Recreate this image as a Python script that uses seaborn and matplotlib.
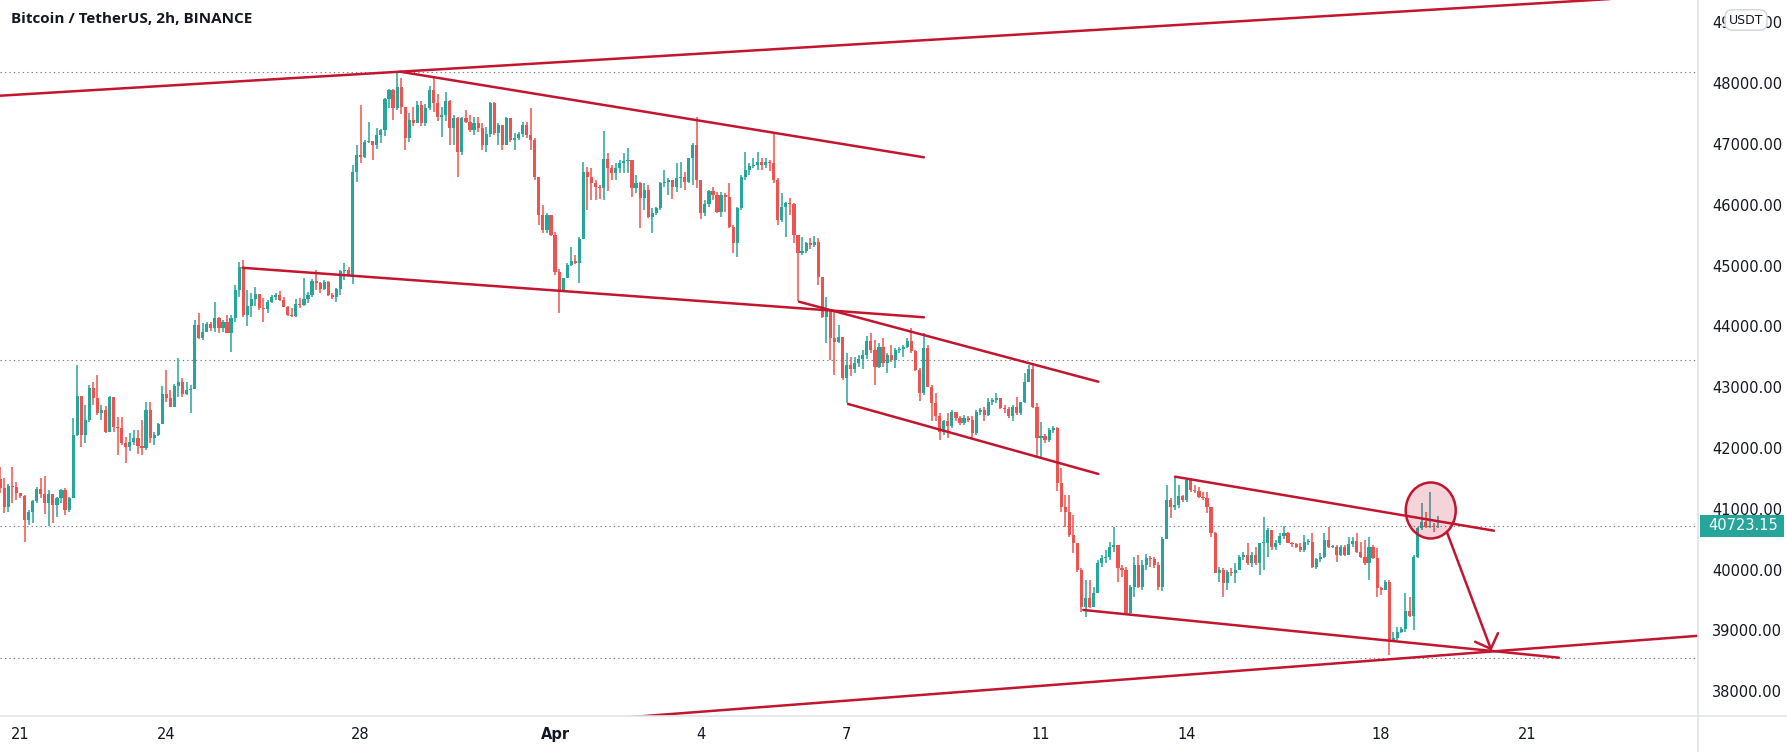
import matplotlib
matplotlib.use("Agg")
import numpy as np
import pandas as pd
import matplotlib.pyplot as plt
import matplotlib.transforms as mtransforms
from matplotlib.patches import Ellipse, Rectangle
from matplotlib.lines import Line2D
import seaborn as sns

# ---------------- data ----------------
title = "Bitcoin / TetherUS, 2h, BINANCE"
first_open = 41486
close = [
    41338, 41037, 41376, 41354, 41256, 41217, 40817, 40954, 41120, 41322, 41245, 41102,
    41245, 41064, 41174, 41311, 40980, 41174, 42215, 42856, 42215, 42461, 42982, 42818,
    42571, 42626, 42270, 42845, 42352, 42324, 42078, 42012, 42105, 42160, 42034, 41995,
    42626, 42160, 42215, 42396, 42889, 42818, 42680, 43020, 43092, 42880, 42950, 42966,
    44024, 43805, 43914, 44040, 43980, 44134, 43970, 44079, 43898, 44134, 44599, 44972,
    44188, 44336, 44446, 44528, 44298, 44280, 44408, 44490, 44517, 44435, 44325, 44188,
    44171, 44369, 44350, 44446, 44517, 44753, 44709, 44610, 44736, 44517, 44479, 44610,
    44917, 44928, 44846, 46546, 46820, 46782, 47040, 47056, 46985, 47149, 47231, 47735,
    47890, 47587, 47944, 47615, 47094, 47395, 47340, 47642, 47340, 47587, 47889, 47670,
    47450, 47478, 47713, 47259, 47423, 46875, 47423, 47368, 47231, 47340, 47259, 46985,
    47165, 47670, 47176, 47313, 46985, 47423, 47060, 47094, 47165, 47313, 47150, 47067,
    46464, 45834, 45587, 45834, 45505, 44902, 44600, 44792, 45011, 45083, 45040, 45433,
    46546, 46464, 46354, 46300, 46272, 46749, 46600, 46530, 46600, 46683, 46727, 46738,
    46272, 46365, 46108, 46245, 45806, 45861, 45943, 46365, 46382, 46409, 46288, 46436,
    46450, 46382, 46765, 46984, 46409, 45861, 46014, 46233, 46162, 45888, 46162, 46135,
    45642, 45368, 45943, 46453, 46573, 46639, 46655, 46710, 46655, 46710, 46683, 46409,
    45751, 45970, 46036, 46020, 45505, 45203, 45232, 45368, 45340, 45380, 44820, 44162,
    44272, 43806, 43751, 43833, 43148, 43367, 43299, 43405, 43460, 43532, 43767, 43614,
    43329, 43668, 43395, 43532, 43450, 43614, 43625, 43668, 43767, 43600, 43285, 42900,
    43641, 43010, 42748, 42518, 42271, 42436, 42367, 42600, 42490, 42408, 42490, 42454,
    42244, 42600, 42620, 42545, 42764, 42792, 42819, 42655, 42640, 42518, 42682, 42573,
    42764, 43093, 43295, 42682, 42161, 42200, 42130, 42300, 42323, 41419, 41035, 40953,
    40570, 40444, 39994, 39380, 39528, 39391, 39611, 40115, 40186, 40203, 40378, 40405,
    40022, 39994, 39282, 39710, 40076, 39720, 40076, 40186, 40170, 40076, 39720, 40498,
    41145, 41035, 41063, 41211, 41145, 41474, 41309, 41298, 41200, 41172, 41035, 40597,
    39939, 39994, 39775, 39967, 39939, 40000, 40214, 40241, 40104, 40241, 40104, 40433,
    40433, 40652, 40378, 40433, 40553, 40597, 40433, 40422, 40378, 40323, 40460, 40460,
    40049, 40170, 40214, 40487, 40378, 40378, 40241, 40378, 40241, 40422, 40476, 40296,
    40214, 40104, 40378, 40186, 39693, 39665, 39803, 38843, 38880, 38980, 39024, 39326,
    39238, 40214, 40679, 40789, 40707, 40717, 40707, 40723.15,
]
high = [
    41694, 41503, 41409, 41694, 41448, 41256, 41228, 40980, 41146, 41354, 41503, 41541,
    41311, 41245, 41200, 41322, 41340, 41200, 42489, 43366, 42856, 42708, 43037, 43092,
    43201, 42708, 42692, 42856, 42845, 42505, 42505, 42187, 42240, 42297, 42297, 42461,
    42763, 42763, 42270, 42410, 43020, 43283, 42955, 43060, 43475, 43150, 43090, 43040,
    44100, 44216, 44062, 44079, 44080, 44408, 44160, 44106, 44188, 44188, 44682, 45065,
    45093, 44599, 44545, 44654, 44528, 44462, 44435, 44517, 44545, 44588, 44479, 44336,
    44298, 44446, 44462, 44791, 44572, 44775, 44928, 44736, 44764, 44753, 44556, 44627,
    44928, 45049, 44983, 46650, 46985, 47642, 47067, 47368, 47056, 47259, 47242, 47752,
    47900, 47900, 48190, 48080, 47615, 47505, 47600, 47700, 47700, 47650, 47956, 48080,
    47830, 47615, 47860, 47725, 47478, 47450, 47450, 47560, 47478, 47450, 47450, 47340,
    47287, 47697, 47697, 47340, 47287, 47440, 47430, 47176, 47200, 47368, 47368, 47587,
    47100, 46464, 46000, 45860, 45834, 45560, 44950, 44800, 45040, 45313, 45176, 45477,
    46710, 46628, 46600, 46409, 46327, 47220, 46847, 46655, 46683, 46738, 46847, 46930,
    46738, 46491, 46382, 46354, 46327, 45943, 45970, 46382, 46573, 46436, 46409, 46683,
    46710, 46546, 46765, 47012, 47450, 46409, 46080, 46245, 46288, 46217, 46217, 46200,
    46354, 45669, 45970, 46491, 46875, 46683, 46765, 46875, 46765, 46765, 46740, 47176,
    46436, 46190, 46053, 46108, 46025, 45505, 45477, 45395, 45450, 45480, 45450, 44820,
    44490, 44272, 44272, 44025, 43833, 43559, 43504, 43493, 43532, 43614, 43844, 43899,
    43778, 43720, 43805, 43559, 43696, 43641, 43668, 43696, 43805, 43970, 43614, 43312,
    43888, 43696, 43039, 42900, 42573, 42463, 42573, 42627, 42600, 42518, 42545, 42520,
    42518, 42627, 42650, 42682, 42819, 42819, 42900, 42820, 42700, 42682, 42710, 42846,
    42764, 43230, 43367, 43395, 42737, 42433, 42230, 42330, 42360, 42350, 41666, 41227,
    41227, 40899, 40444, 40022, 39830, 39830, 39720, 40159, 40241, 40323, 40460, 40707,
    40405, 40076, 40049, 39748, 40214, 40241, 40159, 40257, 40230, 40203, 40131, 40542,
    41392, 41172, 41529, 41392, 41227, 41485, 41501, 41392, 41353, 41282, 41282, 40926,
    40624, 40049, 40022, 39994, 40022, 40104, 40241, 40296, 40444, 40296, 40378, 40444,
    40871, 40679, 40460, 40487, 40597, 40717, 40624, 40460, 40433, 40433, 40570, 40500,
    40597, 40186, 40268, 40597, 40707, 40410, 40405, 40405, 40405, 40542, 40531, 40597,
    40460, 40487, 40531, 40405, 40350, 39720, 39830, 39830, 38980, 39063, 39063, 39611,
    39556, 40241, 40707, 41090, 40953, 41282, 40760, 40880,
]
low = [
    41256, 40927, 40954, 41091, 41146, 41180, 40461, 40735, 40774, 41091, 41174, 40916,
    40719, 40774, 40872, 41091, 40900, 40954, 41174, 42198, 42012, 42078, 42434, 42708,
    42540, 42461, 42250, 42270, 42270, 41886, 42050, 41760, 41957, 42050, 41902, 41886,
    41968, 42078, 42050, 42198, 42396, 42763, 42670, 42680, 42845, 42845, 42870, 42571,
    42966, 43790, 43780, 43900, 43920, 43900, 43888, 43900, 43890, 43586, 44079, 44490,
    44160, 44008, 44161, 44336, 44270, 44079, 44227, 44380, 44435, 44420, 44314, 44172,
    44150, 44150, 44298, 44336, 44380, 44479, 44599, 44556, 44600, 44500, 44446, 44408,
    44517, 44764, 44830, 44700, 46382, 46683, 46765, 47012, 46738, 46913, 47023, 47132,
    47590, 47400, 47560, 47500, 46902, 47040, 47300, 47340, 47300, 47290, 47560, 47530,
    47370, 47122, 47370, 46985, 46985, 46464, 46820, 47340, 47200, 47150, 47200, 46902,
    46875, 47122, 47150, 46985, 46902, 47040, 47040, 46902, 47060, 47122, 47100, 46902,
    46400, 45670, 45530, 45530, 45480, 44850, 44217, 44570, 44790, 44990, 45020, 44710,
    45430, 45915, 46080, 46080, 46100, 46080, 46233, 46409, 46409, 46518, 46518, 46518,
    46135, 46190, 45614, 45916, 45780, 45532, 45834, 45916, 46300, 46163, 46090, 46217,
    46270, 46245, 46365, 46327, 46272, 45762, 45817, 45970, 46080, 45861, 45806, 45880,
    45614, 45203, 45148, 45916, 46409, 46491, 46600, 46573, 46573, 46600, 46560, 46354,
    45669, 45724, 45477, 45834, 45368, 44420, 45176, 45203, 45280, 45300, 44683, 44135,
    43724, 43450, 43203, 43724, 43121, 42737, 43176, 43230, 43340, 43295, 43460, 43559,
    43039, 43310, 43340, 43230, 43420, 43312, 43560, 43504, 43640, 43559, 43274, 42765,
    42874, 43000, 42436, 42436, 42134, 42216, 42161, 42326, 42436, 42380, 42380, 42420,
    42161, 42216, 42545, 42436, 42518, 42710, 42737, 42640, 42580, 42490, 42436, 42545,
    42545, 42737, 43093, 42655, 41860, 41830, 42080, 42100, 42250, 41300, 40953, 40707,
    40542, 40268, 39967, 39309, 39227, 39364, 39474, 39611, 40049, 40104, 40159, 40296,
    39803, 39885, 39271, 39254, 39556, 39693, 39665, 40000, 40049, 40022, 39665, 39654,
    40498, 40843, 40975, 41008, 41118, 41118, 41282, 41255, 41172, 41140, 40926, 40542,
    39939, 39803, 39556, 39665, 39896, 39775, 39994, 40159, 40076, 40049, 40076, 39912,
    40000, 40214, 40330, 40323, 40405, 40498, 40433, 40378, 40350, 40296, 40296, 40400,
    40022, 40005, 40131, 40186, 40350, 40350, 40131, 40220, 40220, 40268, 40378, 40268,
    40186, 40076, 39830, 40170, 39556, 39580, 39693, 38600, 38816, 38843, 38953, 38980,
    39227, 39008, 40186, 40652, 40679, 40679, 40625, 40679,
]
last_price = 40723.15

first_bar = "2022-03-20 14:00"
day_zero = "2022-03-21"
tick_dates = ["2022-03-21", "2022-03-24", "2022-03-28", "2022-04-01", "2022-04-04",
              "2022-04-07", "2022-04-11", "2022-04-14", "2022-04-18", "2022-04-21"]
tick_labels = ["21", "24", "28", "Apr", "4", "7", "11", "14", "18", "21"]
price_ticks = [38000, 39000, 40000, 41000, 42000, 43000, 44000, 45000, 46000, 47000, 48000, 49000]

# drawn annotations: (days since Mar 21, price)
trend_lines = {
    "top_support": [(-0.42, 47794), (34.6, 49475)],
    "peak_down": [(7.81, 48189), (18.59, 46781)],
    "mid_line": [(4.57, 44964), (18.59, 44150)],
    "chan_top": [(16.02, 44406), (22.18, 43090)],
    "chan_bot": [(17.03, 42724), (22.18, 41573)],
    "range_top": [(23.76, 41528), (30.32, 40640)],
    "range_bot": [(21.87, 39336), (31.66, 38551)],
    "low_support": [(12.31, 37559), (34.6, 38916)],
}
dotted_levels = [48180, 43449, last_price, 38546]
circle_center = (29.02, 40972)
arrow_start = (29.35, 40623)
arrow_end = (30.27, 38669)

# ---------------- style ----------------
sns.set_theme(style="white")
plt.rcParams["font.family"] = ["DejaVu Sans"]

GREEN = "#26a69a"
RED = "#ef5350"
LINE = "#c2152f"
TEXT = "#131722"
BORDER = "#e0e3eb"

W, H = 1787, 752
fig = plt.figure(figsize=(W / 100, H / 100), dpi=100)
fig.patch.set_facecolor("white")
ax_left, ax_right, ax_bottom = 0, 1698, 36
ax = fig.add_axes([ax_left / W, ax_bottom / H, (ax_right - ax_left) / W, (H - ax_bottom) / H])
ax.set_facecolor("white")

# candles
times = pd.date_range(first_bar, periods=len(close), freq="2h")
xd = ((times - pd.Timestamp(day_zero)) / pd.Timedelta(days=1)).to_numpy()
opens = [first_open] + close[:-1]
df = pd.DataFrame(dict(x=xd, open=opens, close=close, high=high, low=low))
up = df["close"].to_numpy() >= df["open"].to_numpy()
colors = np.where(up, GREEN, RED)
ax.vlines(df["x"], df["low"], df["high"], colors=colors, lw=1.1, zorder=2)
body_bottom = np.minimum(df["open"], df["close"])
body_h = np.maximum(np.abs(df["close"] - df["open"]), 17)
ax.bar(df["x"], body_h, bottom=body_bottom, width=0.78 / 12, color=colors,
       linewidth=0, zorder=3)

# dotted horizontal levels
for lv in dotted_levels:
    ax.axhline(lv, color="#787b86", lw=0.8, ls=(0, (1.2, 2.8)), zorder=1)

# trend lines via seaborn
rows = []
for name, pts in trend_lines.items():
    for d, p in pts:
        rows.append(dict(seg=name, day=d, price=p))
tdf = pd.DataFrame(rows)
sns.lineplot(data=tdf, x="day", y="price", units="seg", estimator=None, sort=False,
             color=LINE, lw=1.8, ax=ax, legend=False, zorder=5)
ax.set_xlabel("")
ax.set_ylabel("")

# circle highlight
ax.add_patch(Ellipse(circle_center, width=50 / 48.6, height=56 / 0.0608,
                     facecolor=(0.76, 0.08, 0.18, 0.18), edgecolor=LINE, lw=1.8, zorder=6))
ax.annotate("", xy=arrow_end, xytext=arrow_start,
            arrowprops=dict(arrowstyle="->,head_length=0.4,head_width=0.4", color=LINE,
                            lw=1.8, mutation_scale=22, shrinkA=0, shrinkB=0), zorder=6)

# limits
ax.set_xlim(-0.4218, 34.52)
ax.set_ylim(37592, 49368)

# axes / ticks
tick_pos = ((pd.to_datetime(tick_dates) - pd.Timestamp(day_zero)) / pd.Timedelta(days=1)).to_numpy()
ax.set_xticks(tick_pos)
ax.set_xticklabels(tick_labels)
for lab in ax.get_xticklabels():
    if lab.get_text() == "Apr":
        lab.set_fontweight("bold")
ax.tick_params(axis="x", length=0, pad=8, labelsize=10.5, labelcolor=TEXT)
ax.yaxis.tick_right()
ax.set_yticks(price_ticks)
ax.set_yticklabels([f"{v:.2f}" for v in price_ticks])
ax.tick_params(axis="y", length=0, pad=10, labelsize=10.5, labelcolor=TEXT)
for s in ax.spines.values():
    s.set_visible(False)
ax.grid(False)

fig.add_artist(Line2D([ax_right / W, ax_right / W], [0, 1], color=BORDER, lw=1.2))
fig.add_artist(Line2D([0, 1], [ax_bottom / H, ax_bottom / H], color=BORDER, lw=1.2))

# last price label
blend = mtransforms.blended_transform_factory(ax.transAxes, ax.transData)
ax.add_patch(Rectangle((1.0 + 2 / 1698, last_price - 180), 84 / 1698, 360,
                       transform=blend, clip_on=False, facecolor=GREEN, edgecolor="none", zorder=10))
ax.text(1.0 + 10 / 1698, last_price, f"{last_price:.2f}", transform=blend, clip_on=False,
        color="white", fontsize=10.5, va="center", ha="left", zorder=11)

# unit box (covers the middle of the top price label, as in the original screenshot)
fig.text(1746 / W, 1 - 20 / H, "USDT", ha="center", va="center", fontsize=9, color=TEXT,
         bbox=dict(boxstyle="round,pad=0.3,rounding_size=0.6", fc="white", ec="#d1d4dc", lw=1),
         zorder=12)

# title
fig.text(11 / W, 1 - 19 / H, title, ha="left", va="center", fontsize=11,
         fontweight="bold", color=TEXT, family=["Open Sans", "DejaVu Sans"])

fig.savefig("out.png", dpi=100, facecolor="white")
